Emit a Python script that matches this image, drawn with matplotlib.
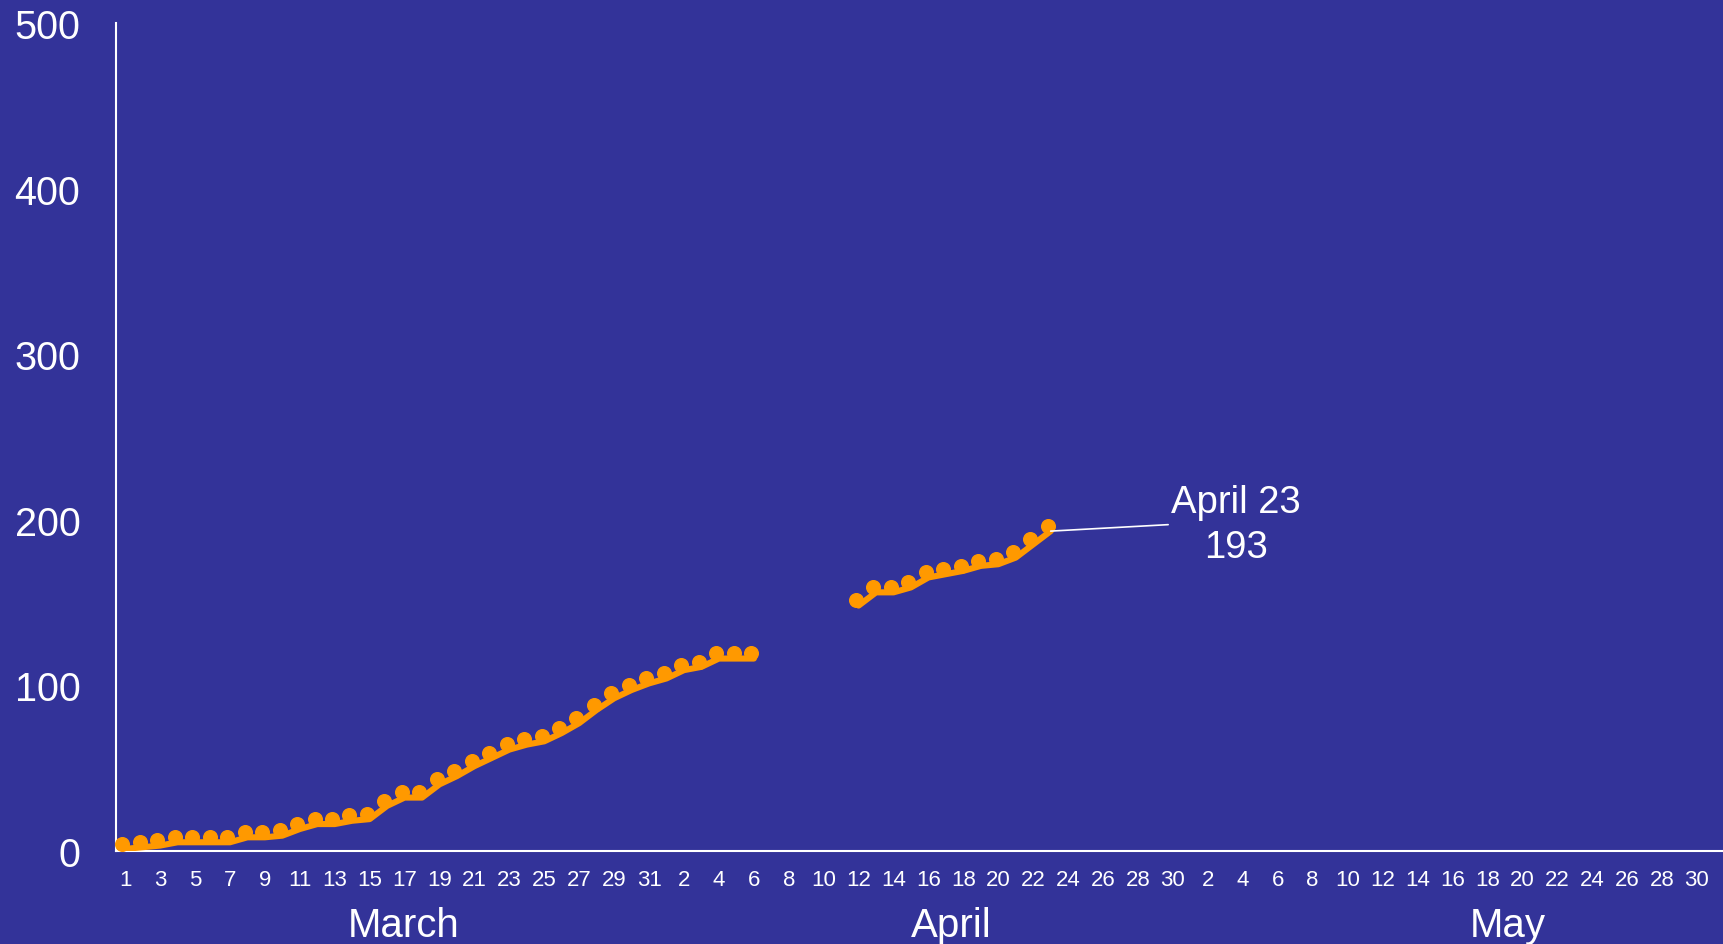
import numpy as np
import matplotlib
matplotlib.use("Agg")
import matplotlib.pyplot as plt
import matplotlib.transforms as mtransforms

plt.rcParams['font.family'] = ['Liberation Sans', 'DejaVu Sans']

BG = '#333399'
ORANGE = '#ff9900'

# one slot per day, March 1 .. May 31
months = ['March', 'April', 'May']
month_days = [31, 30, 31]
month_label_pos = [15.95, 47.3, 79.2]

# cumulative values, March 1 .. April 6
march_early_april = [1, 2, 3, 5, 5, 5, 5, 8, 8, 9, 13, 16, 16, 18, 19,
                     27, 32, 32, 40, 45, 51, 56, 61, 64, 66, 71, 77, 85,
                     92, 97, 101, 104, 109, 111, 116, 116, 116]
# April 12 .. April 23
mid_april = [148, 156, 156, 159, 165, 167, 169, 172, 173, 177, 185, 193]
missing_days = 5  # April 7 .. 11 not reported

tick_labels = []
for m, n in enumerate(month_days):
    for d in range(1, n + 1):
        tick_labels.append(str(d))

values = march_early_april + [np.nan] * missing_days + mid_april
n_days = sum(month_days)
values = values + [np.nan] * (n_days - len(values))
x = np.arange(n_days)
y = np.array(values, dtype=float)

fig = plt.figure(figsize=(17.23, 9.45), dpi=100, facecolor=BG)
ax = fig.add_axes([0.0676, 0.0989, 0.9324, 0.8757])
ax.set_facecolor(BG)

ax.plot(x, y, color=ORANGE, lw=4.4, solid_joinstyle='round',
        solid_capstyle='round', zorder=3)
# markers sit a little above and left of the line
off = mtransforms.offset_copy(ax.transData, fig=fig, x=-2.0, y=3.8, units='points')
ax.plot(x, y, 'o', color=ORANGE, ms=9.8, transform=off, clip_on=False, zorder=4)

ax.set_xlim(-0.5, n_days - 0.5)
ax.set_ylim(0, 500)
ax.set_yticks(np.arange(0, 501, 100))
ax.set_xticks(x[::2])
ax.set_xticklabels(tick_labels[::2])

for s in ['top', 'right']:
    ax.spines[s].set_visible(False)
for s in ['left', 'bottom']:
    ax.spines[s].set_color('white')
    ax.spines[s].set_linewidth(1.5)

ax.tick_params(axis='y', length=0, pad=26, labelsize=28.5, labelcolor='white')
ax.tick_params(axis='x', length=0, pad=13, labelsize=16, labelcolor='white')

tr = mtransforms.blended_transform_factory(ax.transData, ax.transAxes)
for name, pos in zip(months, month_label_pos):
    ax.text(pos, -0.1033, name, transform=tr, ha='center', va='baseline',
            fontsize=29, color='white')

last = 31 + 22
ax.annotate('April 23\n193', xy=(last, y[last]), xytext=(63.6, 197.0),
            ha='center', va='center', multialignment='center',
            fontsize=27.5, color='white', linespacing=1.35,
            arrowprops=dict(arrowstyle='-', color='white', lw=1.2,
                            shrinkA=0, shrinkB=0, relpos=(0, 0.5)),
            zorder=5)

fig.savefig('out.png', dpi=100, facecolor=BG)
